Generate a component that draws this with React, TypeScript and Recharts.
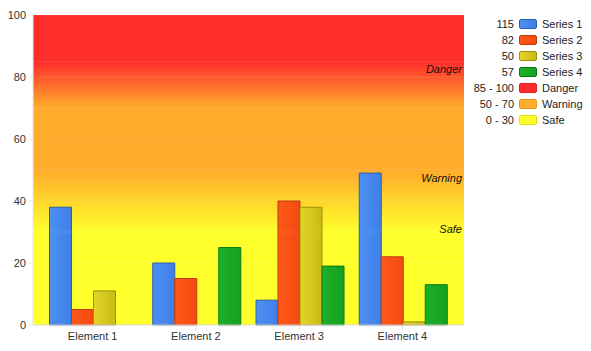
import React from 'react'
import { BarChart, Bar, XAxis, YAxis, CartesianGrid, ReferenceLine } from 'recharts'

const categories = ['Element 1', 'Element 2', 'Element 3', 'Element 4']
const series1 = [38, 20, 8, 49]
const series2 = [5, 15, 40, 22]
const series3 = [11, 0, 38, 1]
const series4 = [0, 25, 19, 13]
const seriesNames = ['Series 1', 'Series 2', 'Series 3', 'Series 4']

// value bands drawn behind the bars
const bandNames = ['Danger', 'Warning', 'Safe']
const bandFrom = [85, 50, 0]
const bandTo = [100, 70, 30]
const bandLabelAt = [82.5, 47.5, 31]

const yTicks = [0, 20, 40, 60, 80, 100]

const SERIES_COLORS = [
  { light: '#4d8ff2', dark: '#3f80e8', stroke: '#2b5fb0' },
  { light: '#ff5a1a', dark: '#f44a10', stroke: '#c23a08' },
  { light: '#e2d527', dark: '#c9bb18', stroke: '#9e900c' },
  { light: '#1cb028', dark: '#16a020', stroke: '#0d7a14' },
]
const BAND_COLORS = ['#ff2c2c', '#ffac2c', '#ffff2c']
const BAND_STROKE = ['#e01818', '#e89518', '#e0e010']

const data = categories.map((name, i) => ({
  name,
  s1: series1[i],
  s2: series2[i],
  s3: series3[i],
  s4: series4[i],
}))

const seriesValues = [series1, series2, series3, series4]
const legendRows = [
  ...seriesNames.map((name, i) => ({
    value: String(seriesValues[i].reduce((a, b) => a + b, 0)),
    name,
    light: SERIES_COLORS[i].light,
    dark: SERIES_COLORS[i].dark,
    stroke: SERIES_COLORS[i].stroke,
  })),
  ...bandNames.map((name, i) => ({
    value: `${bandFrom[i]} - ${bandTo[i]}`,
    name,
    light: BAND_COLORS[i],
    dark: BAND_COLORS[i],
    stroke: BAND_STROKE[i],
  })),
]

// gradient stops for the background: solid inside each band, blended between
const bgStops = bandNames.flatMap((_, i) => [
  { offset: (100 - bandTo[i]) / 100, color: BAND_COLORS[i] },
  { offset: (100 - bandFrom[i]) / 100, color: BAND_COLORS[i] },
])

const FONT = '"Liberation Sans", Arial, sans-serif'

export default function App() {
  return (
    <div style={{ position: 'absolute', left: 0, top: 0, width: 591, height: 351, fontFamily: FONT }}>
      <BarChart
        width={591}
        height={351}
        data={data}
        margin={{ top: 15, right: 127, bottom: 0, left: 0 }}
        barCategoryGap={8.5}
        barGap={0}
      >
        <defs>
          <linearGradient id="bg" x1="0" y1="0" x2="0" y2="1">
            {bgStops.map((s, i) => (
              <stop key={i} offset={s.offset} stopColor={s.color} />
            ))}
          </linearGradient>
          {SERIES_COLORS.map((c, i) => (
            <linearGradient key={i} id={`bar${i}`} x1="0" y1="0" x2="1" y2="0">
              <stop offset="0" stopColor={c.light} />
              <stop offset="1" stopColor={c.dark} />
            </linearGradient>
          ))}
        </defs>
        <CartesianGrid vertical={false} fill="url(#bg)" fillOpacity={1} stroke="#ffffff" strokeOpacity={0.1} />
        {bandFrom.concat(bandTo).filter((v) => v > 0 && v < 100).map((v) => (
          <ReferenceLine key={v} y={v} stroke="#ffffff" strokeOpacity={0.1} />
        ))}
        <XAxis
          dataKey="name"
          height={26}
          padding={{ left: 8, right: 10 }}
          tickSize={5}
          tickMargin={2}
          stroke="#dddddd"
          tick={{ fill: '#333', fontSize: 11, fontFamily: FONT }}
        />
        <YAxis
          width={33}
          domain={[0, 100]}
          ticks={yTicks}
          tickSize={4}
          tickMargin={3}
          stroke="#e6e6e6"
          tick={{ fill: '#333', fontSize: 11, fontFamily: FONT }}
        />
        {bandNames.map((name, i) => (
          <ReferenceLine
            key={name}
            y={bandLabelAt[i]}
            stroke="none"
            label={{ value: name, position: 'insideRight', offset: 2, fill: '#111', fontSize: 11, fontStyle: 'italic', fontFamily: FONT }}
          />
        ))}
        {['s1', 's2', 's3', 's4'].map((key, i) => (
          <Bar
            key={key}
            dataKey={key}
            name={seriesNames[i]}
            fill={`url(#bar${i})`}
            stroke={SERIES_COLORS[i].stroke}
            strokeWidth={1}
            isAnimationActive={false}
          />
        ))}
      </BarChart>
      <div style={{ position: 'absolute', left: 470, top: 16, width: 121, fontSize: 11, color: '#222' }}>
        {legendRows.map((r) => (
          <div key={r.name} style={{ display: 'flex', alignItems: 'center', height: 16 }}>
            <span style={{ width: 44, textAlign: 'right' }}>{r.value}</span>
            <span
              style={{
                marginLeft: 5,
                width: 18,
                height: 10,
                boxSizing: 'border-box',
                border: `1px solid ${r.stroke}`,
                borderRadius: 2,
                background: `linear-gradient(to right, ${r.light}, ${r.dark})`,
              }}
            />
            <span style={{ marginLeft: 5 }}>{r.name}</span>
          </div>
        ))}
      </div>
    </div>
  )
}
